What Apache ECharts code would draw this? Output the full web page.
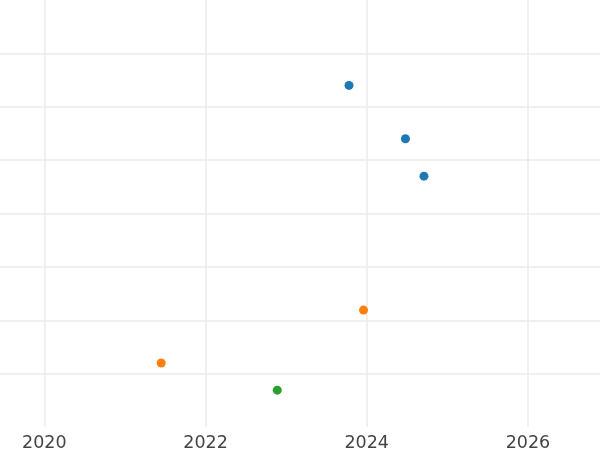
<!DOCTYPE html>
<html>
<head>
<meta charset="utf-8">
<script src="https://cdn.jsdelivr.net/npm/echarts@6/dist/echarts.min.js"></script>
<style>html,body{margin:0;padding:0;background:#fff}#c{width:600px;height:450px}</style>
</head>
<body>
<div id="c"></div>
<script>
// Data (x in decimal years, y in plot units)
const xTicks = [2020, 2022, 2024, 2026];
const blueX = [2023.78, 2024.48, 2024.71];
const blueY = [6.40, 5.40, 4.70];
const orangeX = [2023.96, 2021.45];
const orangeY = [2.19, 1.20];
const greenX = [2022.89];
const greenY = [0.69];

const zip = (xs, ys) => xs.map((x, i) => [x, ys[i]]);
const gridColor = '#ebebeb';

const chart = echarts.init(document.getElementById('c'), null, {renderer: 'canvas'});
chart.setOption({
  animation: false,
  backgroundColor: '#fff',
  grid: {left: 0, right: 0, top: 0, bottom: 23, containLabel: false, outerBoundsMode: 'none'},
  xAxis: {
    type: 'value',
    min: 2019.45, max: 2026.894,
    axisLine: {show: false},
    axisTick: {show: false, customValues: xTicks},
    axisLabel: {
      customValues: xTicks,
      color: '#444', fontSize: 17.5, fontFamily: 'DejaVu Sans', margin: 7,
      formatter: v => String(Math.round(v))
    },
    splitLine: {show: true, lineStyle: {color: gridColor, width: 1.5}}
  },
  yAxis: {
    type: 'value', min: 0, max: 8, interval: 1,
    axisLine: {show: false}, axisTick: {show: false}, axisLabel: {show: false},
    splitLine: {show: true, showMinLine: false, showMaxLine: false, lineStyle: {color: gridColor, width: 1.5}}
  },
  series: [
    {type: 'scatter', data: zip(blueX, blueY), symbolSize: 9, itemStyle: {color: '#1f77b4', opacity: 1}},
    {type: 'scatter', data: zip(orangeX, orangeY), symbolSize: 9, itemStyle: {color: '#ff7f0e', opacity: 1}},
    {type: 'scatter', data: zip(greenX, greenY), symbolSize: 9, itemStyle: {color: '#2ca02c', opacity: 1}}
  ]
});
</script>
</body>
</html>
